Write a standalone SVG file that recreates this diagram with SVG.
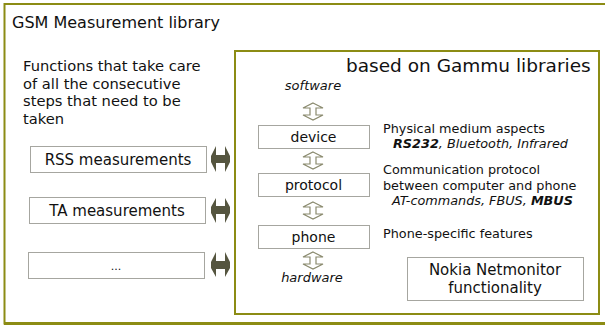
<svg xmlns="http://www.w3.org/2000/svg" width="605" height="327" viewBox="0 0 605 327">
<defs>
<style>
text{font-family:"DejaVu Sans","Liberation Sans",sans-serif;fill:#111;}
.frame{fill:none;stroke:#8c8c14;stroke-width:2;}
.box{fill:#fff;stroke:#a6a6a0;stroke-width:1;}
.harr{fill:#55553f;stroke:none;}
.varr{fill:#fff;stroke:#8a8a6e;stroke-width:1.2;}
.lbl{font-size:14px;}
.sm{font-size:12.8px;}
.it{font-style:italic;}
.bi{font-style:italic;font-weight:bold;}
</style>
</defs>
<rect width="605" height="327" fill="#fff"/>
<g id="outer">
<path class="frame" d="M612,4 H4.5 V323.5 H612"/>
<path d="M4 323.5 H612" stroke="#8c8c14" stroke-width="3"/>
<text x="12" y="28" font-size="16">GSM Measurement library</text>
</g>
<g id="intro">
<text x="23" y="71" font-size="14.7">Functions that take care</text>
<text x="23" y="89" font-size="14.7">of all the consecutive</text>
<text x="23" y="106" font-size="14.7">steps that need to be</text>
<text x="23" y="124" font-size="14.7">taken</text>
</g>
<g id="rss">
<rect class="box" x="30.5" y="146.5" width="176" height="26"/>
<text x="118" y="165" font-size="15" text-anchor="middle">RSS measurements</text>
</g>
<g id="ta">
<rect class="box" x="29.5" y="197.5" width="176" height="26"/>
<text x="117" y="216" font-size="15" text-anchor="middle">TA measurements</text>
</g>
<g id="more">
<rect class="box" x="28.5" y="252.5" width="176" height="26"/>
<text x="116" y="270" text-anchor="middle" font-size="11">...</text>
</g>
<g id="gammu">
<rect class="frame" x="235" y="51" width="364" height="263"/>
<text x="346" y="72" font-size="18.5">based on Gammu libraries</text>
<text class="it" x="313" y="90" font-size="13" text-anchor="middle">software</text>
<text class="it" x="312" y="282" font-size="13" text-anchor="middle">hardware</text>
</g>
<g id="device">
<rect class="box" x="258.5" y="125.5" width="111" height="23"/>
<text class="lbl" x="313.5" y="142" text-anchor="middle">device</text>
</g>
<g id="protocol">
<rect class="box" x="258.5" y="173.5" width="111" height="23"/>
<text class="lbl" x="313.5" y="190" text-anchor="middle">protocol</text>
</g>
<g id="phone">
<rect class="box" x="258.5" y="225.5" width="111" height="23"/>
<text class="lbl" x="313.5" y="242" text-anchor="middle">phone</text>
</g>
<g id="notes">
<text class="sm" x="383" y="133">Physical medium aspects</text>
<text class="sm it" x="393" y="148"><tspan class="bi">RS232</tspan>, Bluetooth, Infrared</text>
<text class="sm" x="383" y="174">Communication protocol</text>
<text class="sm" x="383" y="190">between computer and phone</text>
<text class="sm it" x="392" y="205">AT-commands, FBUS, <tspan class="bi">MBUS</tspan></text>
<text class="sm" x="383" y="238">Phone-specific features</text>
</g>
<g id="netmonitor">
<rect class="box" x="407.5" y="257.5" width="176" height="43"/>
<text x="495" y="275" font-size="15" text-anchor="middle">Nokia Netmonitor</text>
<text x="495" y="293" font-size="15" text-anchor="middle">functionality</text>
</g>
<g id="connectors">
<polygon class="harr" points="211,156 216,146 216,155 225,155 225,146 230,156 230,162 225,172 225,163 216,163 216,172 211,162"/>
<polygon class="harr" points="211,207 216,198 216,206 225,206 225,198 230,207 230,213 225,223 225,214 216,214 216,223 211,213"/>
<polygon class="harr" points="211,262 216,252 216,261 225,261 225,252 230,262 230,268 225,277 225,269 216,269 216,277 211,268"/>
<polygon class="varr" points="313,103 323,108 316,108 316,115 323,115 313,120 303,115 310,115 310,108 303,108"/>
<polygon class="varr" points="313,152 323,157 316,157 316,164 323,164 313,169 303,164 310,164 310,157 303,157"/>
<polygon class="varr" points="313,202 323,207 316,207 316,214 323,214 313,219 303,214 310,214 310,207 303,207"/>
<polygon class="varr" points="313,252 323,257 316,257 316,264 323,264 313,269 303,264 310,264 310,257 303,257"/>
</g>
</svg>
